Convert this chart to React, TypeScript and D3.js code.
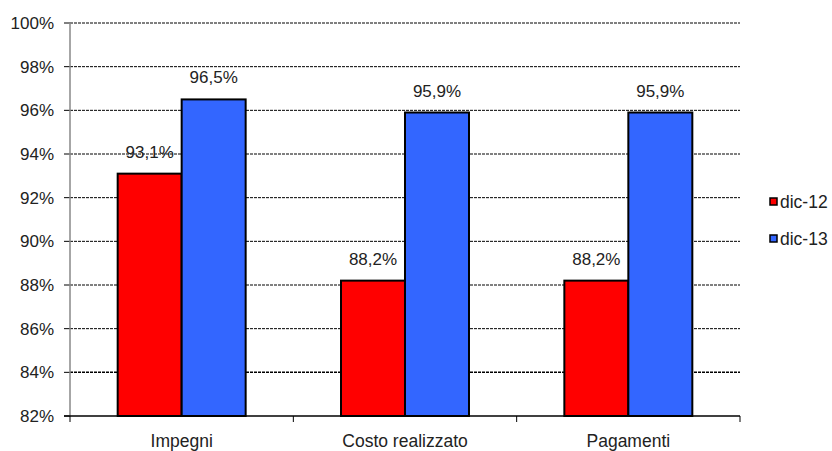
import * as d3 from 'd3';
import React from 'react';

const categories = ['Impegni', 'Costo realizzato', 'Pagamenti'];
const seriesNames = ['dic-12', 'dic-13'];
const dic12 = [93.1, 88.2, 88.2];
const dic13 = [96.5, 95.9, 95.9];
const yTicks = [82, 84, 86, 88, 90, 92, 94, 96, 98, 100];
const colors = ['#ff0000', '#3366ff'];

const W = 832;
const H = 451;
const margin = { top: 23, right: 92, bottom: 35, left: 70 };

export default function App() {
  const innerW = W - margin.left - margin.right;
  const innerH = H - margin.top - margin.bottom;

  const x0 = d3.scaleBand().domain(categories).range([0, innerW]).padding(0);
  const x1 = d3
    .scaleBand()
    .domain(seriesNames)
    .range([0, x0.bandwidth()])
    .paddingInner(0)
    .paddingOuter(0.745);
  const y = d3.scaleLinear().domain([82, 100]).range([innerH, 0]);

  const values = [dic12, dic13];
  const fmt = (v: number) => v.toFixed(1).replace('.', ',') + '%';
  const font = '"Liberation Sans", Arial, sans-serif';

  return (
    <svg
      width={W}
      height={H}
      style={{ position: 'absolute', left: 0, top: 0, background: '#fff' }}
      fontFamily={font}
    >
      <g transform={`translate(${margin.left},${margin.top})`}>
        {/* grid lines */}
        {yTicks.map((t) => (
          <g key={t}>
            {t !== 82 && (
              <line
                x1={0}
                x2={innerW}
                y1={y(t)}
                y2={y(t)}
                stroke="#000"
                strokeWidth={t === 84 ? 1.5 : 1}
                strokeDasharray="3,1"
              />
            )}
            <line x1={-6} x2={0} y1={y(t)} y2={y(t)} stroke="#000" />
            <text
              x={-16}
              y={y(t)}
              dy="0.36em"
              textAnchor="end"
              fontSize={17}
              fill="#222"
            >
              {t}%
            </text>
          </g>
        ))}
        {/* y axis */}
        <line x1={0} x2={0} y1={0} y2={innerH} stroke="#888" strokeWidth={1.5} />

        {/* bars */}
        {categories.map((c, ci) => (
          <g key={c} transform={`translate(${x0(c)},0)`}>
            {seriesNames.map((s, si) => {
              const v = values[si][ci];
              const bx = x1(s)!;
              return (
                <g key={s}>
                  <rect
                    x={bx}
                    y={y(v)}
                    width={x1.bandwidth()}
                    height={innerH - y(v)}
                    fill={colors[si]}
                    stroke="#000"
                    strokeWidth={2}
                  />
                  <text
                    x={bx + x1.bandwidth() / 2}
                    y={y(v) - 16}
                    textAnchor="middle"
                    fontSize={17}
                    fill="#222"
                  >
                    {fmt(v)}
                  </text>
                </g>
              );
            })}
            <text
              x={x0.bandwidth() / 2}
              y={innerH + 31}
              textAnchor="middle"
              fontSize={17.5}
              fill="#222"
            >
              {c}
            </text>
          </g>
        ))}

        {/* x axis */}
        <line x1={-6} x2={innerW} y1={innerH} y2={innerH} stroke="#000" strokeWidth={1.5} />
        {categories.map((c) => (
          <line
            key={c}
            x1={x0(c)!}
            x2={x0(c)!}
            y1={innerH}
            y2={innerH + 6}
            stroke="#000"
          />
        ))}
        <line x1={innerW} x2={innerW} y1={innerH} y2={innerH + 6} stroke="#000" />
      </g>

      {/* legend */}
      {seriesNames.map((s, i) => (
        <g key={s} transform={`translate(770,${198 + i * 37})`}>
          <rect x={0} y={0} width={7} height={7} fill={colors[i]} stroke="#000" strokeWidth={1.5} />
          <text x={10} y={3.5} dy="0.36em" fontSize={17.5} fill="#222">
            {s}
          </text>
        </g>
      ))}
    </svg>
  );
}
